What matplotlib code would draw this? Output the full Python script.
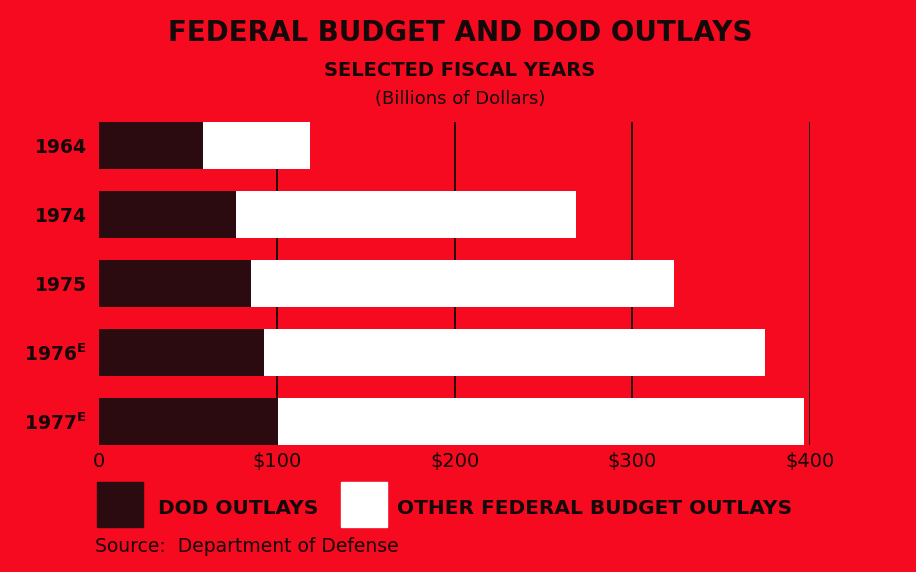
import matplotlib
matplotlib.use("Agg")
import matplotlib.pyplot as plt
from matplotlib.patches import Rectangle

# --- data (billions of dollars) ---
years = ["1964", "1974", "1975", "1976$^{E}$", "1977$^{E}$"]
dod = [58.7, 76.9, 85.5, 92.9, 100.9]
total = [118.7, 268.4, 323.4, 374.6, 396.6]
xticks = [0, 100, 200, 300, 400]
xtick_labels = ["0", "$100", "$200", "$300", "$400"]

RED = "#f50a20"
DARK = "#2b0a10"
INK = "#140808"

plt.rcParams["font.family"] = ["DejaVu Sans"]
plt.rcParams["mathtext.default"] = "regular"

W, H = 916, 572
fig = plt.figure(figsize=(W / 100, H / 100), dpi=100, facecolor=RED)

# axes placed in pixel coords: x 0..400 -> 99..810, bars span y 122..445
ax = fig.add_axes([99 / W, 1 - 445 / H, (810 - 99) / W, (445 - 122) / H])
ax.set_facecolor(RED)

pos = list(range(len(years)))
other = [t - d for t, d in zip(total, dod)]
ax.barh(pos, dod, height=0.68, color=DARK, zorder=3)
ax.barh(pos, other, left=dod, height=0.68, color="white", zorder=3)

for x in xticks[1:]:
    ax.axvline(x, color=INK, lw=1.3, zorder=1)

ax.set_xlim(0, 400)
ax.set_ylim(len(years) - 1 + 0.34, -0.34)
for s in ax.spines.values():
    s.set_visible(False)
ax.set_xticks(xticks)
ax.set_xticklabels(xtick_labels, fontsize=14, color=INK)
ax.set_yticks(pos)
ax.set_yticklabels(years, fontsize=13.5, fontweight="bold", color=INK)
ax.tick_params(length=0)
ax.tick_params(axis="x", pad=5)
ax.tick_params(axis="y", pad=9)

# titles
fig.text(0.502, 1 - 33 / H, "FEDERAL BUDGET AND DOD OUTLAYS", ha="center", va="center",
         fontsize=20, fontweight="bold", color=INK)
fig.text(0.502, 1 - 70 / H, "SELECTED FISCAL YEARS", ha="center", va="center",
         fontsize=14, fontweight="bold", color=INK)
fig.text(0.502, 1 - 99 / H, "(Billions of Dollars)", ha="center", va="center",
         fontsize=13, color=INK)

# legend
fig.patches.append(Rectangle((97 / W, 1 - 527 / H), 46 / W, 45 / H,
                             transform=fig.transFigure, color=DARK))
fig.text(158 / W, 1 - 508 / H, "DOD OUTLAYS", ha="left", va="center",
         fontsize=14.5, fontweight="bold", color=INK)
fig.patches.append(Rectangle((341 / W, 1 - 527 / H), 46 / W, 45 / H,
                             transform=fig.transFigure, color="white"))
fig.text(397 / W, 1 - 508 / H, "OTHER FEDERAL BUDGET OUTLAYS", ha="left", va="center",
         fontsize=14.5, fontweight="bold", color=INK)
fig.text(95 / W, 1 - 547 / H, "Source:  Department of Defense", ha="left", va="center",
         fontsize=13.5, color=INK)

fig.savefig("out.png", dpi=100, facecolor=RED)
